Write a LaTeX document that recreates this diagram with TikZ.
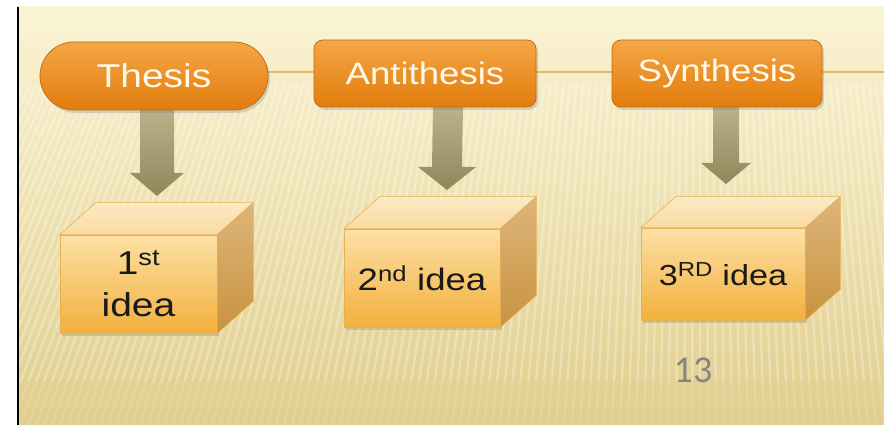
\documentclass[tikz,border=0pt]{standalone}
\usepackage{fontspec}
\setmainfont{Liberation Sans}[FakeStretch=1.18]
\newfontfamily\numfont{Carlito}
\usetikzlibrary{shapes.misc,shadows,calc}
\pgfdeclarelayer{bg}
\pgfdeclarelayer{mid}
\pgfsetlayers{bg,mid,main}
\definecolor{bgtop}{HTML}{FBF4D4}
\definecolor{bgbot}{HTML}{E0CE8C}
\definecolor{linec}{HTML}{E6B865}
\definecolor{ortop}{HTML}{F4A646}
\definecolor{orbot}{HTML}{E27D0C}
\definecolor{orbrd}{HTML}{C56C14}
\definecolor{arrtop}{HTML}{BBB38D}
\definecolor{arrbot}{HTML}{8E875B}
\definecolor{fronttop}{HTML}{FCE0A6}
\definecolor{frontbot}{HTML}{F3B03C}
\definecolor{frontbrd}{HTML}{E7B153}
\definecolor{toptop}{HTML}{FBE9C4}
\definecolor{topbot}{HTML}{FADBA0}
\definecolor{sidetop}{HTML}{DEB57A}
\definecolor{sidebot}{HTML}{C8933E}
\definecolor{pagenum}{HTML}{858585}
\definecolor{headtext}{HTML}{FFF9EC}
\begin{document}
\begin{tikzpicture}[x=1pt,y=-1pt,
  headbox/.style={draw=orbrd, line width=0.8pt, top color=ortop, bottom color=orbot,
    text=headtext, inner sep=0pt,
    drop shadow={opacity=0.3, shadow xshift=2pt, shadow yshift=-3pt}},
  front/.style={draw=frontbrd, line width=0.6pt, top color=fronttop, bottom color=frontbot,
    inner sep=0pt, text=black!90, align=center,
    drop shadow={opacity=0.3, shadow xshift=2pt, shadow yshift=-3pt}},
  topface/.style={draw=frontbrd, line width=0.6pt, top color=toptop, bottom color=topbot},
  sideface/.style={draw=frontbrd, line width=0.6pt, top color=sidetop, bottom color=sidebot},
  blk/.style={top color=arrtop, bottom color=arrbot},
  conn/.style={draw=linec, line width=1.2pt}]
\useasboundingbox (0,0) rectangle (884,425);

% heading boxes
\node[headbox, rounded rectangle, minimum width=228pt, minimum height=68pt,
  font=\fontsize{33}{36}\selectfont] (thesis) at (154,76) {Thesis};
\node[headbox, rounded corners=9pt, minimum width=222pt, minimum height=67pt,
  font=\fontsize{31}{34}\selectfont] (anti) at (425,73.5) {Antithesis};
\node[headbox, rounded corners=9pt, minimum width=210pt, minimum height=67pt,
  font=\fontsize{31}{34}\selectfont] (synth) at (717,73.5) {Synthesis};

% cubes (front faces)
\node[front, minimum width=157pt, minimum height=98pt,
  font=\fontsize{33}{42}\selectfont] (c1) at (138.5,284) {1\textsuperscript{st}\\idea};
\node[front, minimum width=156pt, minimum height=98pt,
  font=\fontsize{31}{36}\selectfont] (c2) at (422,278) {2\textsuperscript{nd} idea};
\node[front, minimum width=164pt, minimum height=92pt,
  font=\fontsize{29}{34}\selectfont] (c3) at (723,274) {3\textsuperscript{RD} idea};

\path[topface] (c1.north west) -- ($(c1.north west)+(36,-32)$) -- ($(c1.north east)+(36,-32)$) -- (c1.north east) -- cycle;
\path[sideface] (c1.north east) -- ($(c1.north east)+(36,-32)$) -- ($(c1.south east)+(36,-32)$) -- (c1.south east) -- cycle;
\path[topface] (c2.north west) -- ($(c2.north west)+(36,-32)$) -- ($(c2.north east)+(36,-32)$) -- (c2.north east) -- cycle;
\path[sideface] (c2.north east) -- ($(c2.north east)+(36,-32)$) -- ($(c2.south east)+(36,-32)$) -- (c2.south east) -- cycle;
\path[topface] (c3.north west) -- ($(c3.north west)+(35,-31)$) -- ($(c3.north east)+(35,-31)$) -- (c3.north east) -- cycle;
\path[sideface] (c3.north east) -- ($(c3.north east)+(35,-31)$) -- ($(c3.south east)+(35,-31)$) -- (c3.south east) -- cycle;

\node[text=pagenum, font=\numfont\fontsize{38}{40}\selectfont] (pg) at (693,370) {13};

% connectors and block arrows below the boxes
\begin{pgfonlayer}{mid}
\coordinate (rightend) at (884,72);
\path[conn] (thesis.east |- 0,72) -- (anti.west |- 0,72);
\path[conn] (anti.east |- 0,72) -- (synth.west |- 0,72);
\path[conn] (synth.east |- 0,72) -- (rightend);
\coordinate (a1s) at (thesis.south |- 0,108);
\coordinate (a1t) at (157,196);
\coordinate (a2s) at (448,105);
\coordinate (a2t) at (447,190);
\coordinate (a3s) at (726,105);
\coordinate (a3t) at (726,184);
\shade[blk] (157-17,108) -- (157+17,108) -- ($(a1t)+(17,-23)$) -- ($(a1t)+(27,-23)$)
  -- (a1t) -- ($(a1t)+(-27,-23)$) -- ($(a1t)+(-17,-23)$) -- cycle;
\shade[blk] ($(a2s)+(-15,0)$) -- ($(a2s)+(15,0)$) -- ($(a2t)+(15,-23)$) -- ($(a2t)+(29,-23)$)
  -- (a2t) -- ($(a2t)+(-29,-23)$) -- ($(a2t)+(-15,-23)$) -- cycle;
\shade[blk] ($(a3s)+(-13,0)$) -- ($(a3s)+(13,0)$) -- ($(a3t)+(13,-21)$) -- ($(a3t)+(25,-21)$)
  -- (a3t) -- ($(a3t)+(-25,-21)$) -- ($(a3t)+(-13,-21)$) -- cycle;
\end{pgfonlayer}

% background
\begin{pgfonlayer}{bg}
\fill[white] (0,0) rectangle (884,425);
\shade[top color=bgtop, bottom color=bgbot] (18,7) rectangle (884,425);
\begin{scope}
  \clip (18,85) rectangle (884,380);
  \foreach \x in {-700,-692,...,1200} {
    \draw[white, opacity=0.28, line width=2.5pt] (700,-1400) -- (\x,425);
  }
\end{scope}
\begin{scope}
  \clip (18,380) rectangle (884,425);
  \foreach \x in {-700,-692,...,1200} {
    \draw[white, opacity=0.12, line width=2.5pt] (700,-1400) -- (\x,425);
  }
\end{scope}
\draw[black, line width=1.6pt] (18,7) -- (18,425);
\end{pgfonlayer}
\end{tikzpicture}
\end{document}
